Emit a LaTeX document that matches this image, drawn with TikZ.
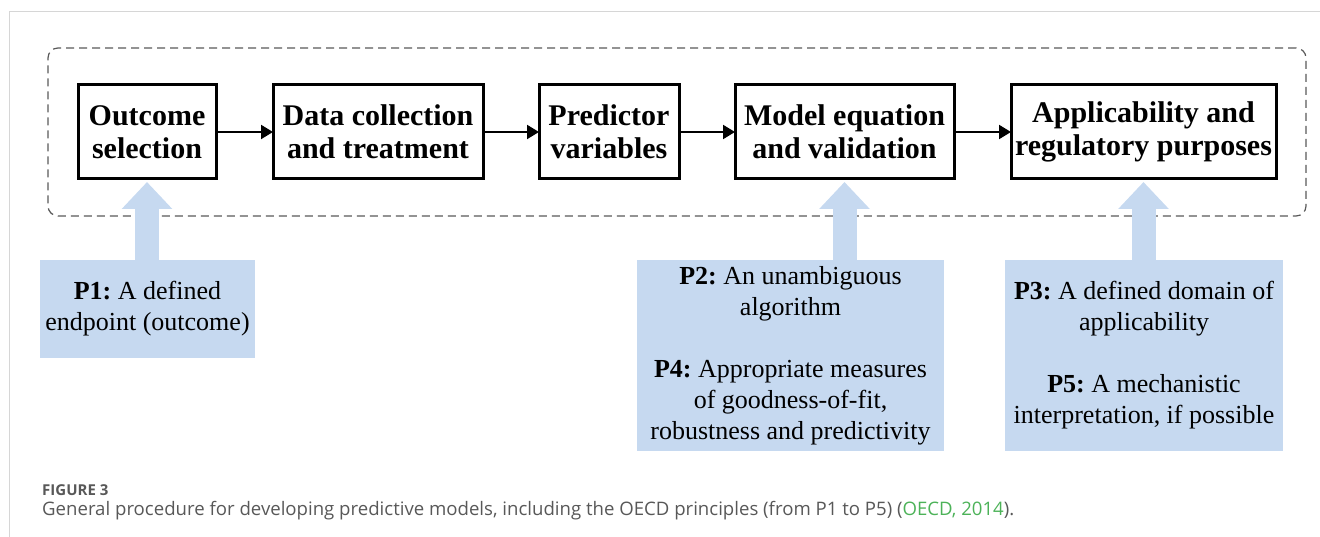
\documentclass[tikz,border=0pt]{standalone}
\usepackage{fontspec}
\setmainfont{Liberation Serif}
\newfontfamily\captionfont{Open Sans}
\usetikzlibrary{arrows.meta, positioning, fit}
\frenchspacing

\begin{document}
\begin{tikzpicture}[x=1pt, y=-1pt]
% Development procedure of predictive models with the OECD principles

\definecolor{pblue}{RGB}{198,217,240}     % light blue - principle boxes
\definecolor{pagerule}{RGB}{214,214,214}  % light grey - page frame
\definecolor{capgray}{RGB}{88,88,88}      % grey - caption text
\definecolor{refgreen}{RGB}{76,178,88}    % green - citation

\tikzset{
  stage/.style={draw, line width=3pt, minimum height=94pt, inner sep=0pt, outer sep=0pt, align=center, font=\fontsize{30}{33}\selectfont\bfseries},
  principlebox/.style={fill=pblue, inner sep=0pt, outer sep=0pt, align=center, font=\fontsize{26}{31}\selectfont},
  flow/.style={line width=2pt, -{Triangle[length=12pt, width=14pt]}},
  lift/.style={pblue, line width=24pt, -{Triangle[length=27pt, width=49pt]}, shorten >=3pt},
  group/.style={draw=black!65, line width=1.2pt, dash pattern=on 8pt off 5pt, rounded corners=10pt, inner xsep=30pt, inner ysep=37pt}
}

\useasboundingbox (0,0) rectangle (1320,537);

% Page frame
\draw[pagerule, line width=1pt] (9,537) -- (9,12) -- (1320,12);

% Stages
\node[stage, minimum width=138pt] (outcome) at (147,132) {Outcome\\selection};
\node[stage, minimum width=210pt, right=57pt of outcome] (data) {Data collection\\and treatment};
\node[stage, minimum width=140pt, right=56pt of data] (predictor) {Predictor\\variables};
\node[stage, minimum width=219pt, right=56pt of predictor] (model) {Model equation\\and validation};
\node[stage, minimum width=265pt, right=57pt of model] (purpose) {Applicability and\\regulatory purposes};

% Stage flow
\foreach \a/\b in {outcome/data, data/predictor, predictor/model, model/purpose} {
    \draw[flow] (\a) -- (\b);
}

% Dashed frame round the stages
\node[group, fit=(outcome)(purpose)] (pipeline) {};

% Principles
\node[principlebox, minimum width=215pt, minimum height=98pt] (p1) at (147.5,309) {\textbf{P1:} A defined\\endpoint (outcome)};
\node[principlebox, minimum width=307pt, minimum height=191pt] (p24) at (790.5,355.5) {\textbf{P2:} An unambiguous\\algorithm\\[31pt]\textbf{P4:} Appropriate measures\\of goodness-of-fit,\\robustness and predictivity};
\node[principlebox, minimum width=278pt, minimum height=191pt] (p35) at (1144,355.5) {\textbf{P3:} A defined domain of\\applicability\\[31pt]\textbf{P5:} A mechanistic\\interpretation, if possible};

% Principle arrows
\draw[lift] (outcome.south |- p1.north) -- (outcome.south);
\draw[lift] (model.south |- p24.north) -- (model.south);
\draw[lift] (purpose.south |- p35.north) -- (purpose.south);

% Caption
\node[anchor=base west, inner sep=0pt, text=capgray, font=\captionfont\bfseries\fontsize{15}{18}\selectfont] (figlabel) at (42,495) {FIGURE 3};
\node[anchor=base west, inner sep=0pt, text=capgray, font=\captionfont\fontsize{18.6}{22}\selectfont] (figcaption) at (42,515) {General procedure for developing predictive models, including the OECD principles (from P1 to P5) (\textcolor{refgreen}{OECD, 2014}).};

\end{tikzpicture}
\end{document}
